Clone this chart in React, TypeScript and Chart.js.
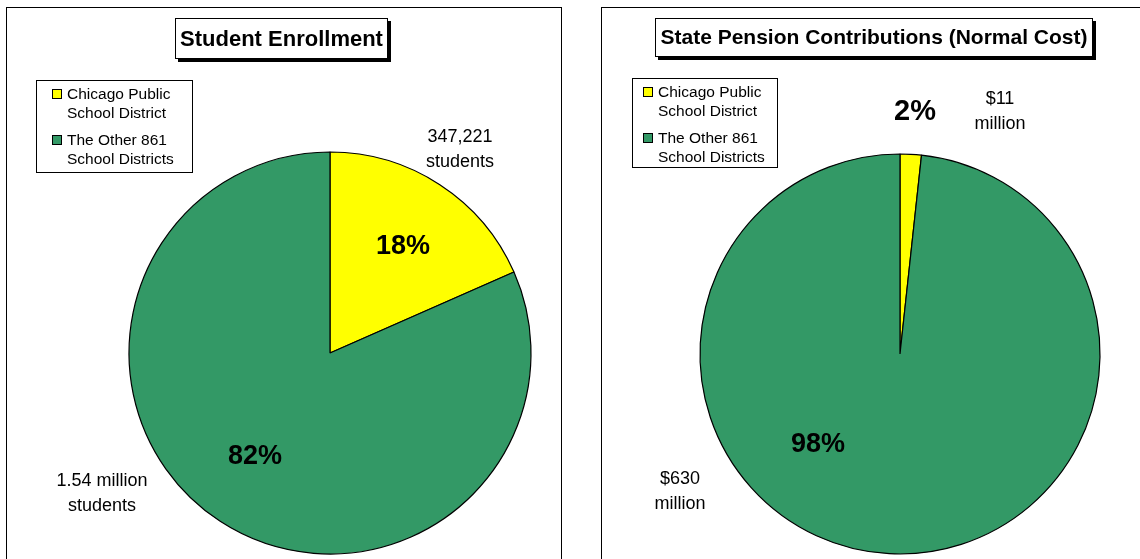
import React, { useEffect, useRef } from "react";
import { Chart, registerables } from "chart.js";

Chart.register(...registerables);

// ---------- data ----------
const districts = ["Chicago Public School District", "The Other 861 School Districts"];
const legendLines = [
  ["Chicago Public", "School District"],
  ["The Other 861", "School Districts"],
];
const sliceColors = ["#FFFF00", "#339966"];

const enrollmentTitle = "Student Enrollment";
const enrollmentValues = [347221, 1540000];
const enrollmentPercents = ["18%", "82%"];
const enrollmentAmounts = [
  ["347,221", "students"],
  ["1.54 million", "students"],
];

const pensionTitle = "State Pension Contributions (Normal Cost)";
const pensionValues = [11, 630];
const pensionPercents = ["2%", "98%"];
const pensionAmounts = [
  ["$11", "million"],
  ["$630", "million"],
];

// ---------- layout / style ----------
const FONT = "'Liberation Sans', Arial, Helvetica, sans-serif";

type PanelCfg = {
  title: string;
  values: number[];
  percents: string[];
  amounts: string[][];
  canvas: { left: number; top: number; w: number; h: number };
  center: { x: number; y: number };
  radius: number;
  titleBox: { x: number; y: number; w: number; h: number; size: number };
  legend: { x: number; y: number; w: number; h: number; sqX: number; textX: number; first: number; lineGap: number; itemGap: number };
  pctOffsets: number[][];
  pctSize: number[];
  amtOffsets: number[][];
};

const leftPanel: PanelCfg = {
  title: enrollmentTitle,
  values: enrollmentValues,
  percents: enrollmentPercents,
  amounts: enrollmentAmounts,
  canvas: { left: 7, top: 8, w: 554, h: 551 },
  center: { x: 323, y: 345 },
  radius: 201,
  titleBox: { x: 168, y: 10, w: 213, h: 41, size: 22 },
  legend: { x: 29, y: 72, w: 157, h: 93, sqX: 16, textX: 31, first: 14, lineGap: 19, itemGap: 46 },
  pctOffsets: [[73, -106], [-75, 104]],
  pctSize: [27, 27],
  amtOffsets: [[130, -216], [-228, 128]],
};

const rightPanel: PanelCfg = {
  title: pensionTitle,
  values: pensionValues,
  percents: pensionPercents,
  amounts: pensionAmounts,
  canvas: { left: 602, top: 8, w: 538, h: 551 },
  center: { x: 298, y: 346 },
  radius: 200,
  titleBox: { x: 53, y: 10, w: 438, h: 39, size: 21 },
  legend: { x: 30, y: 70, w: 146, h: 90, sqX: 11, textX: 26, first: 14, lineGap: 19, itemGap: 46 },
  pctOffsets: [[15, -242], [-82, 91]],
  pctSize: [29, 27],
  amtOffsets: [[100, -255], [-220, 125]],
};

function decorPlugin(cfg: PanelCfg) {
  return {
    id: "decor",
    afterDraw(chart: any) {
      const ctx: CanvasRenderingContext2D = chart.ctx;
      const arc = chart.getDatasetMeta(0).data[0] as any;
      const cx = arc.x;
      const cy = arc.y;
      ctx.save();

      // title box with shadow
      const t = cfg.titleBox;
      ctx.fillStyle = "#000";
      ctx.fillRect(t.x + 3, t.y + 3, t.w, t.h);
      ctx.fillStyle = "#fff";
      ctx.fillRect(t.x, t.y, t.w, t.h);
      ctx.strokeStyle = "#000";
      ctx.lineWidth = 1;
      ctx.strokeRect(t.x + 0.5, t.y + 0.5, t.w - 1, t.h - 1);
      ctx.fillStyle = "#000";
      ctx.font = `bold ${t.size}px ${FONT}`;
      ctx.textAlign = "center";
      ctx.textBaseline = "middle";
      ctx.fillText(cfg.title, t.x + t.w / 2, t.y + t.h / 2 + 1);

      // legend
      const lg = cfg.legend;
      ctx.fillStyle = "#fff";
      ctx.fillRect(lg.x, lg.y, lg.w, lg.h);
      ctx.strokeRect(lg.x + 0.5, lg.y + 0.5, lg.w - 1, lg.h - 1);
      ctx.font = `15.5px ${FONT}`;
      ctx.textAlign = "left";
      legendLines.forEach((lines, i) => {
        const y0 = lg.y + lg.first + i * lg.itemGap;
        ctx.fillStyle = sliceColors[i];
        ctx.fillRect(lg.x + lg.sqX, y0 - 5, 10, 10);
        ctx.strokeStyle = "#000";
        ctx.strokeRect(lg.x + lg.sqX + 0.5, y0 - 5 + 0.5, 9, 9);
        ctx.fillStyle = "#000";
        lines.forEach((ln, j) => {
          ctx.fillText(ln, lg.x + lg.textX, y0 + j * lg.lineGap + 1);
        });
      });

      // percentage labels
      ctx.textAlign = "center";
      cfg.percents.forEach((p, i) => {
        ctx.font = `bold ${cfg.pctSize[i]}px ${FONT}`;
        ctx.fillText(p, cx + cfg.pctOffsets[i][0], cy + cfg.pctOffsets[i][1]);
      });

      // amount labels
      ctx.font = `18px ${FONT}`;
      cfg.amounts.forEach((lines, i) => {
        lines.forEach((ln, j) => {
          ctx.fillText(ln, cx + cfg.amtOffsets[i][0], cy + cfg.amtOffsets[i][1] + j * 25);
        });
      });
      ctx.restore();
    },
  };
}

function PiePanel({ cfg }: { cfg: PanelCfg }) {
  const ref = useRef<HTMLCanvasElement | null>(null);
  useEffect(() => {
    if (!ref.current) return;
    const c = cfg.canvas;
    const padLeft = Math.max(0, 2 * cfg.center.x - c.w);
    const padRight = Math.max(0, c.w - 2 * cfg.center.x);
    const padTop = Math.max(0, 2 * cfg.center.y - c.h);
    const padBottom = Math.max(0, c.h - 2 * cfg.center.y);
    const chart = new Chart(ref.current, {
      type: "pie",
      data: {
        labels: districts,
        datasets: [
          {
            data: cfg.values,
            backgroundColor: sliceColors,
            borderColor: "#000",
            borderWidth: 1.2,
            radius: cfg.radius,
          } as any,
        ],
      },
      options: {
        responsive: false,
        animation: false,
        events: [],
        layout: { padding: { left: padLeft, right: padRight, top: padTop, bottom: padBottom } },
        plugins: {
          legend: { display: false },
          tooltip: { enabled: false },
          title: { display: false },
        },
      },
      plugins: [decorPlugin(cfg)],
    });
    return () => chart.destroy();
  }, [cfg]);
  const c = cfg.canvas;
  return (
    <canvas
      ref={ref}
      width={c.w}
      height={c.h}
      style={{ position: "absolute", left: c.left, top: c.top, width: c.w, height: c.h }}
    />
  );
}

export default function App() {
  return (
    <div
      style={{
        position: "absolute",
        left: 0,
        top: 0,
        width: 1140,
        height: 559,
        overflow: "hidden",
        background: "#fff",
      }}
    >
      <div
        style={{
          position: "absolute",
          left: 6,
          top: 7,
          width: 556,
          height: 700,
          border: "1px solid #000",
          boxSizing: "border-box",
        }}
      />
      <div
        style={{
          position: "absolute",
          left: 601,
          top: 7,
          width: 700,
          height: 700,
          border: "1px solid #000",
          boxSizing: "border-box",
        }}
      />
      <PiePanel cfg={leftPanel} />
      <PiePanel cfg={rightPanel} />
    </div>
  );
}
